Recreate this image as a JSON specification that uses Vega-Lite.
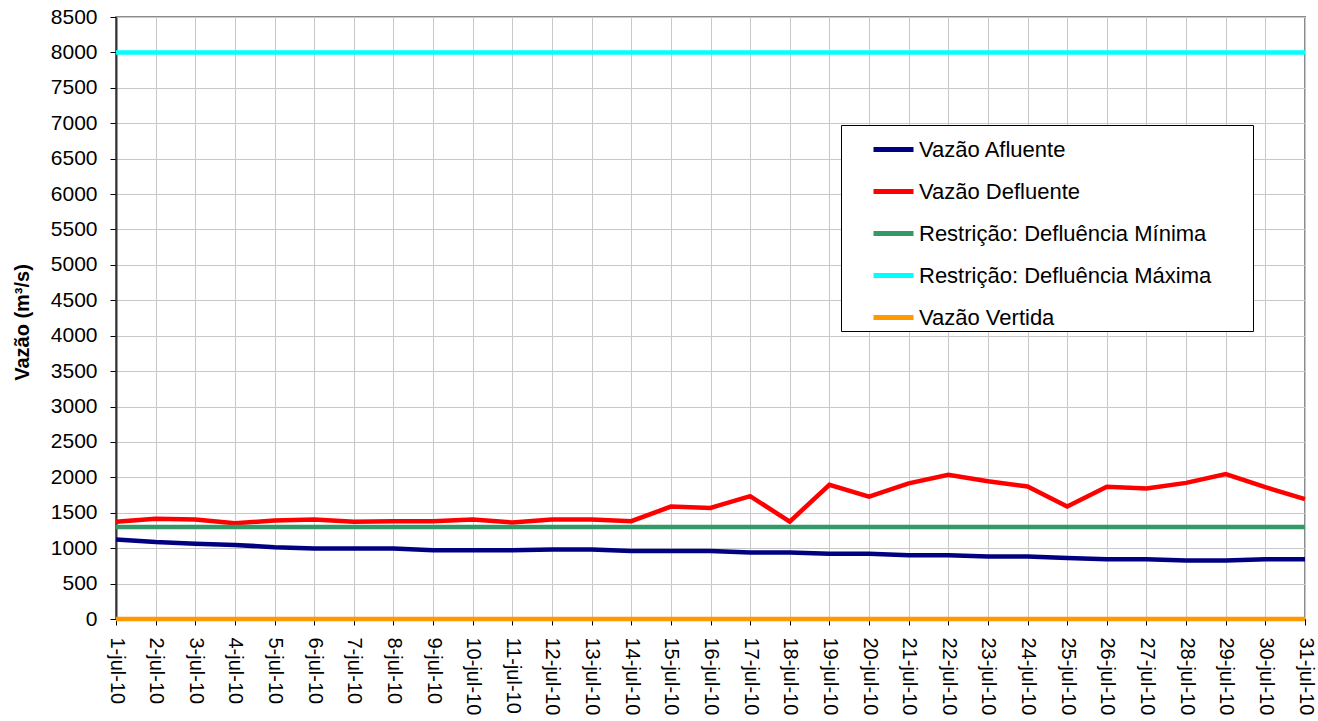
{
  "$schema": "https://vega.github.io/schema/vega-lite/v6.json",
  "width": 1189,
  "height": 602,
  "autosize": {"type": "none"},
  "padding": {"left": 116, "top": 17, "right": 13, "bottom": 102},
  "background": "white",
  "config": {
    "font": "Liberation Sans",
    "view": {"stroke": "#8c8c8c", "strokeWidth": 2}
  },
  "data": {
    "values": [
      {"data": "1-jul-10", "Vazão Afluente": 1124, "Vazão Defluente": 1372, "Restrição: Defluência Mínima": 1300, "Restrição: Defluência Máxima": 8000, "Vazão Vertida": 0},
      {"data": "2-jul-10", "Vazão Afluente": 1087, "Vazão Defluente": 1417, "Restrição: Defluência Mínima": 1300, "Restrição: Defluência Máxima": 8000, "Vazão Vertida": 0},
      {"data": "3-jul-10", "Vazão Afluente": 1064, "Vazão Defluente": 1404, "Restrição: Defluência Mínima": 1300, "Restrição: Defluência Máxima": 8000, "Vazão Vertida": 0},
      {"data": "4-jul-10", "Vazão Afluente": 1046, "Vazão Defluente": 1353, "Restrição: Defluência Mínima": 1300, "Restrição: Defluência Máxima": 8000, "Vazão Vertida": 0},
      {"data": "5-jul-10", "Vazão Afluente": 1014, "Vazão Defluente": 1390, "Restrição: Defluência Mínima": 1300, "Restrição: Defluência Máxima": 8000, "Vazão Vertida": 0},
      {"data": "6-jul-10", "Vazão Afluente": 995, "Vazão Defluente": 1404, "Restrição: Defluência Mínima": 1300, "Restrição: Defluência Máxima": 8000, "Vazão Vertida": 0},
      {"data": "7-jul-10", "Vazão Afluente": 995, "Vazão Defluente": 1372, "Restrição: Defluência Mínima": 1300, "Restrição: Defluência Máxima": 8000, "Vazão Vertida": 0},
      {"data": "8-jul-10", "Vazão Afluente": 995, "Vazão Defluente": 1381, "Restrição: Defluência Mínima": 1300, "Restrição: Defluência Máxima": 8000, "Vazão Vertida": 0},
      {"data": "9-jul-10", "Vazão Afluente": 972, "Vazão Defluente": 1381, "Restrição: Defluência Mínima": 1300, "Restrição: Defluência Máxima": 8000, "Vazão Vertida": 0},
      {"data": "10-jul-10", "Vazão Afluente": 972, "Vazão Defluente": 1404, "Restrição: Defluência Mínima": 1300, "Restrição: Defluência Máxima": 8000, "Vazão Vertida": 0},
      {"data": "11-jul-10", "Vazão Afluente": 972, "Vazão Defluente": 1362, "Restrição: Defluência Mínima": 1300, "Restrição: Defluência Máxima": 8000, "Vazão Vertida": 0},
      {"data": "12-jul-10", "Vazão Afluente": 982, "Vazão Defluente": 1404, "Restrição: Defluência Mínima": 1300, "Restrição: Defluência Máxima": 8000, "Vazão Vertida": 0},
      {"data": "13-jul-10", "Vazão Afluente": 982, "Vazão Defluente": 1404, "Restrição: Defluência Mínima": 1300, "Restrição: Defluência Máxima": 8000, "Vazão Vertida": 0},
      {"data": "14-jul-10", "Vazão Afluente": 959, "Vazão Defluente": 1381, "Restrição: Defluência Mínima": 1300, "Restrição: Defluência Máxima": 8000, "Vazão Vertida": 0},
      {"data": "15-jul-10", "Vazão Afluente": 959, "Vazão Defluente": 1587, "Restrição: Defluência Mínima": 1300, "Restrição: Defluência Máxima": 8000, "Vazão Vertida": 0},
      {"data": "16-jul-10", "Vazão Afluente": 959, "Vazão Defluente": 1569, "Restrição: Defluência Mínima": 1300, "Restrição: Defluência Máxima": 8000, "Vazão Vertida": 0},
      {"data": "17-jul-10", "Vazão Afluente": 940, "Vazão Defluente": 1734, "Restrição: Defluência Mínima": 1300, "Restrição: Defluência Máxima": 8000, "Vazão Vertida": 0},
      {"data": "18-jul-10", "Vazão Afluente": 940, "Vazão Defluente": 1376, "Restrição: Defluência Mínima": 1300, "Restrição: Defluência Máxima": 8000, "Vazão Vertida": 0},
      {"data": "19-jul-10", "Vazão Afluente": 922, "Vazão Defluente": 1894, "Restrição: Defluência Mínima": 1300, "Restrição: Defluência Máxima": 8000, "Vazão Vertida": 0},
      {"data": "20-jul-10", "Vazão Afluente": 922, "Vazão Defluente": 1729, "Restrição: Defluência Mínima": 1300, "Restrição: Defluência Máxima": 8000, "Vazão Vertida": 0},
      {"data": "21-jul-10", "Vazão Afluente": 899, "Vazão Defluente": 1915, "Restrição: Defluência Mínima": 1300, "Restrição: Defluência Máxima": 8000, "Vazão Vertida": 0},
      {"data": "22-jul-10", "Vazão Afluente": 899, "Vazão Defluente": 2037, "Restrição: Defluência Mínima": 1300, "Restrição: Defluência Máxima": 8000, "Vazão Vertida": 0},
      {"data": "23-jul-10", "Vazão Afluente": 881, "Vazão Defluente": 1945, "Restrição: Defluência Mínima": 1300, "Restrição: Defluência Máxima": 8000, "Vazão Vertida": 0},
      {"data": "24-jul-10", "Vazão Afluente": 881, "Vazão Defluente": 1872, "Restrição: Defluência Mínima": 1300, "Restrição: Defluência Máxima": 8000, "Vazão Vertida": 0},
      {"data": "25-jul-10", "Vazão Afluente": 862, "Vazão Defluente": 1587, "Restrição: Defluência Mínima": 1300, "Restrição: Defluência Máxima": 8000, "Vazão Vertida": 0},
      {"data": "26-jul-10", "Vazão Afluente": 844, "Vazão Defluente": 1867, "Restrição: Defluência Mínima": 1300, "Restrição: Defluência Máxima": 8000, "Vazão Vertida": 0},
      {"data": "27-jul-10", "Vazão Afluente": 844, "Vazão Defluente": 1844, "Restrição: Defluência Mínima": 1300, "Restrição: Defluência Máxima": 8000, "Vazão Vertida": 0},
      {"data": "28-jul-10", "Vazão Afluente": 826, "Vazão Defluente": 1922, "Restrição: Defluência Mínima": 1300, "Restrição: Defluência Máxima": 8000, "Vazão Vertida": 0},
      {"data": "29-jul-10", "Vazão Afluente": 826, "Vazão Defluente": 2046, "Restrição: Defluência Mínima": 1300, "Restrição: Defluência Máxima": 8000, "Vazão Vertida": 0},
      {"data": "30-jul-10", "Vazão Afluente": 844, "Vazão Defluente": 1862, "Restrição: Defluência Mínima": 1300, "Restrição: Defluência Máxima": 8000, "Vazão Vertida": 0},
      {"data": "31-jul-10", "Vazão Afluente": 844, "Vazão Defluente": 1693, "Restrição: Defluência Mínima": 1300, "Restrição: Defluência Máxima": 8000, "Vazão Vertida": 0}
    ]
  },
  "transform": [
    {"fold": ["Vazão Afluente", "Vazão Defluente", "Restrição: Defluência Mínima", "Restrição: Defluência Máxima", "Vazão Vertida"], "as": ["serie", "valor"]}
  ],
  "mark": {"type": "line", "strokeWidth": 4.5, "clip": false},
  "encoding": {
    "x": {
      "field": "data",
      "type": "ordinal",
      "sort": null,
      "scale": {"type": "point", "padding": 0},
      "axis": {
        "title": null,
        "labelAngle": 90,
        "labelAlign": "left",
        "labelBaseline": "middle",
        "labelPadding": 12,
        "labelFontSize": 20,
        "labelColor": "black",
        "labelOverlap": false,
        "tickColor": "black",
        "tickSize": 6,
        "domainColor": "black",
        "grid": true,
        "gridColor": "#c8c8c8"
      }
    },
    "y": {
      "field": "valor",
      "type": "quantitative",
      "scale": {"domain": [0, 8500], "nice": false},
      "axis": {
        "title": "Vazão (m³/s)",
        "format": "d",
        "values": [0, 500, 1000, 1500, 2000, 2500, 3000, 3500, 4000, 4500, 5000, 5500, 6000, 6500, 7000, 7500, 8000, 8500],
        "labelFontSize": 21,
        "labelColor": "black",
        "labelPadding": 13,
        "tickSize": 6,
        "tickColor": "black",
        "domainColor": "#333333",
        "domainWidth": 2,
        "gridColor": "#c8c8c8",
        "titleFontSize": 20,
        "titleFontWeight": "bold",
        "titleColor": "black",
        "titleX": -94,
        "titleY": 305,
        "titleAngle": 270,
        "titleAlign": "center",
        "titleBaseline": "middle"
      }
    },
    "color": {
      "field": "serie",
      "type": "nominal",
      "scale": {
        "domain": ["Vazão Afluente", "Vazão Defluente", "Restrição: Defluência Mínima", "Restrição: Defluência Máxima", "Vazão Vertida"],
        "range": ["#000080", "#ff0000", "#339966", "#00ffff", "#ff9900"]
      },
      "legend": {
        "title": " ",
        "titleOrient": "right",
        "titlePadding": 40,
        "orient": "none",
        "legendX": 725,
        "legendY": 108,
        "strokeColor": "black",
        "fillColor": "white",
        "padding": 2,
        "symbolType": "stroke",
        "symbolSize": 1600,
        "symbolStrokeWidth": 5,
        "symbolOffset": 28,
        "labelFontSize": 22,
        "labelColor": "black",
        "labelOffset": 3,
        "labelLimit": 500,
        "rowPadding": 8
      }
    }
  }
}
